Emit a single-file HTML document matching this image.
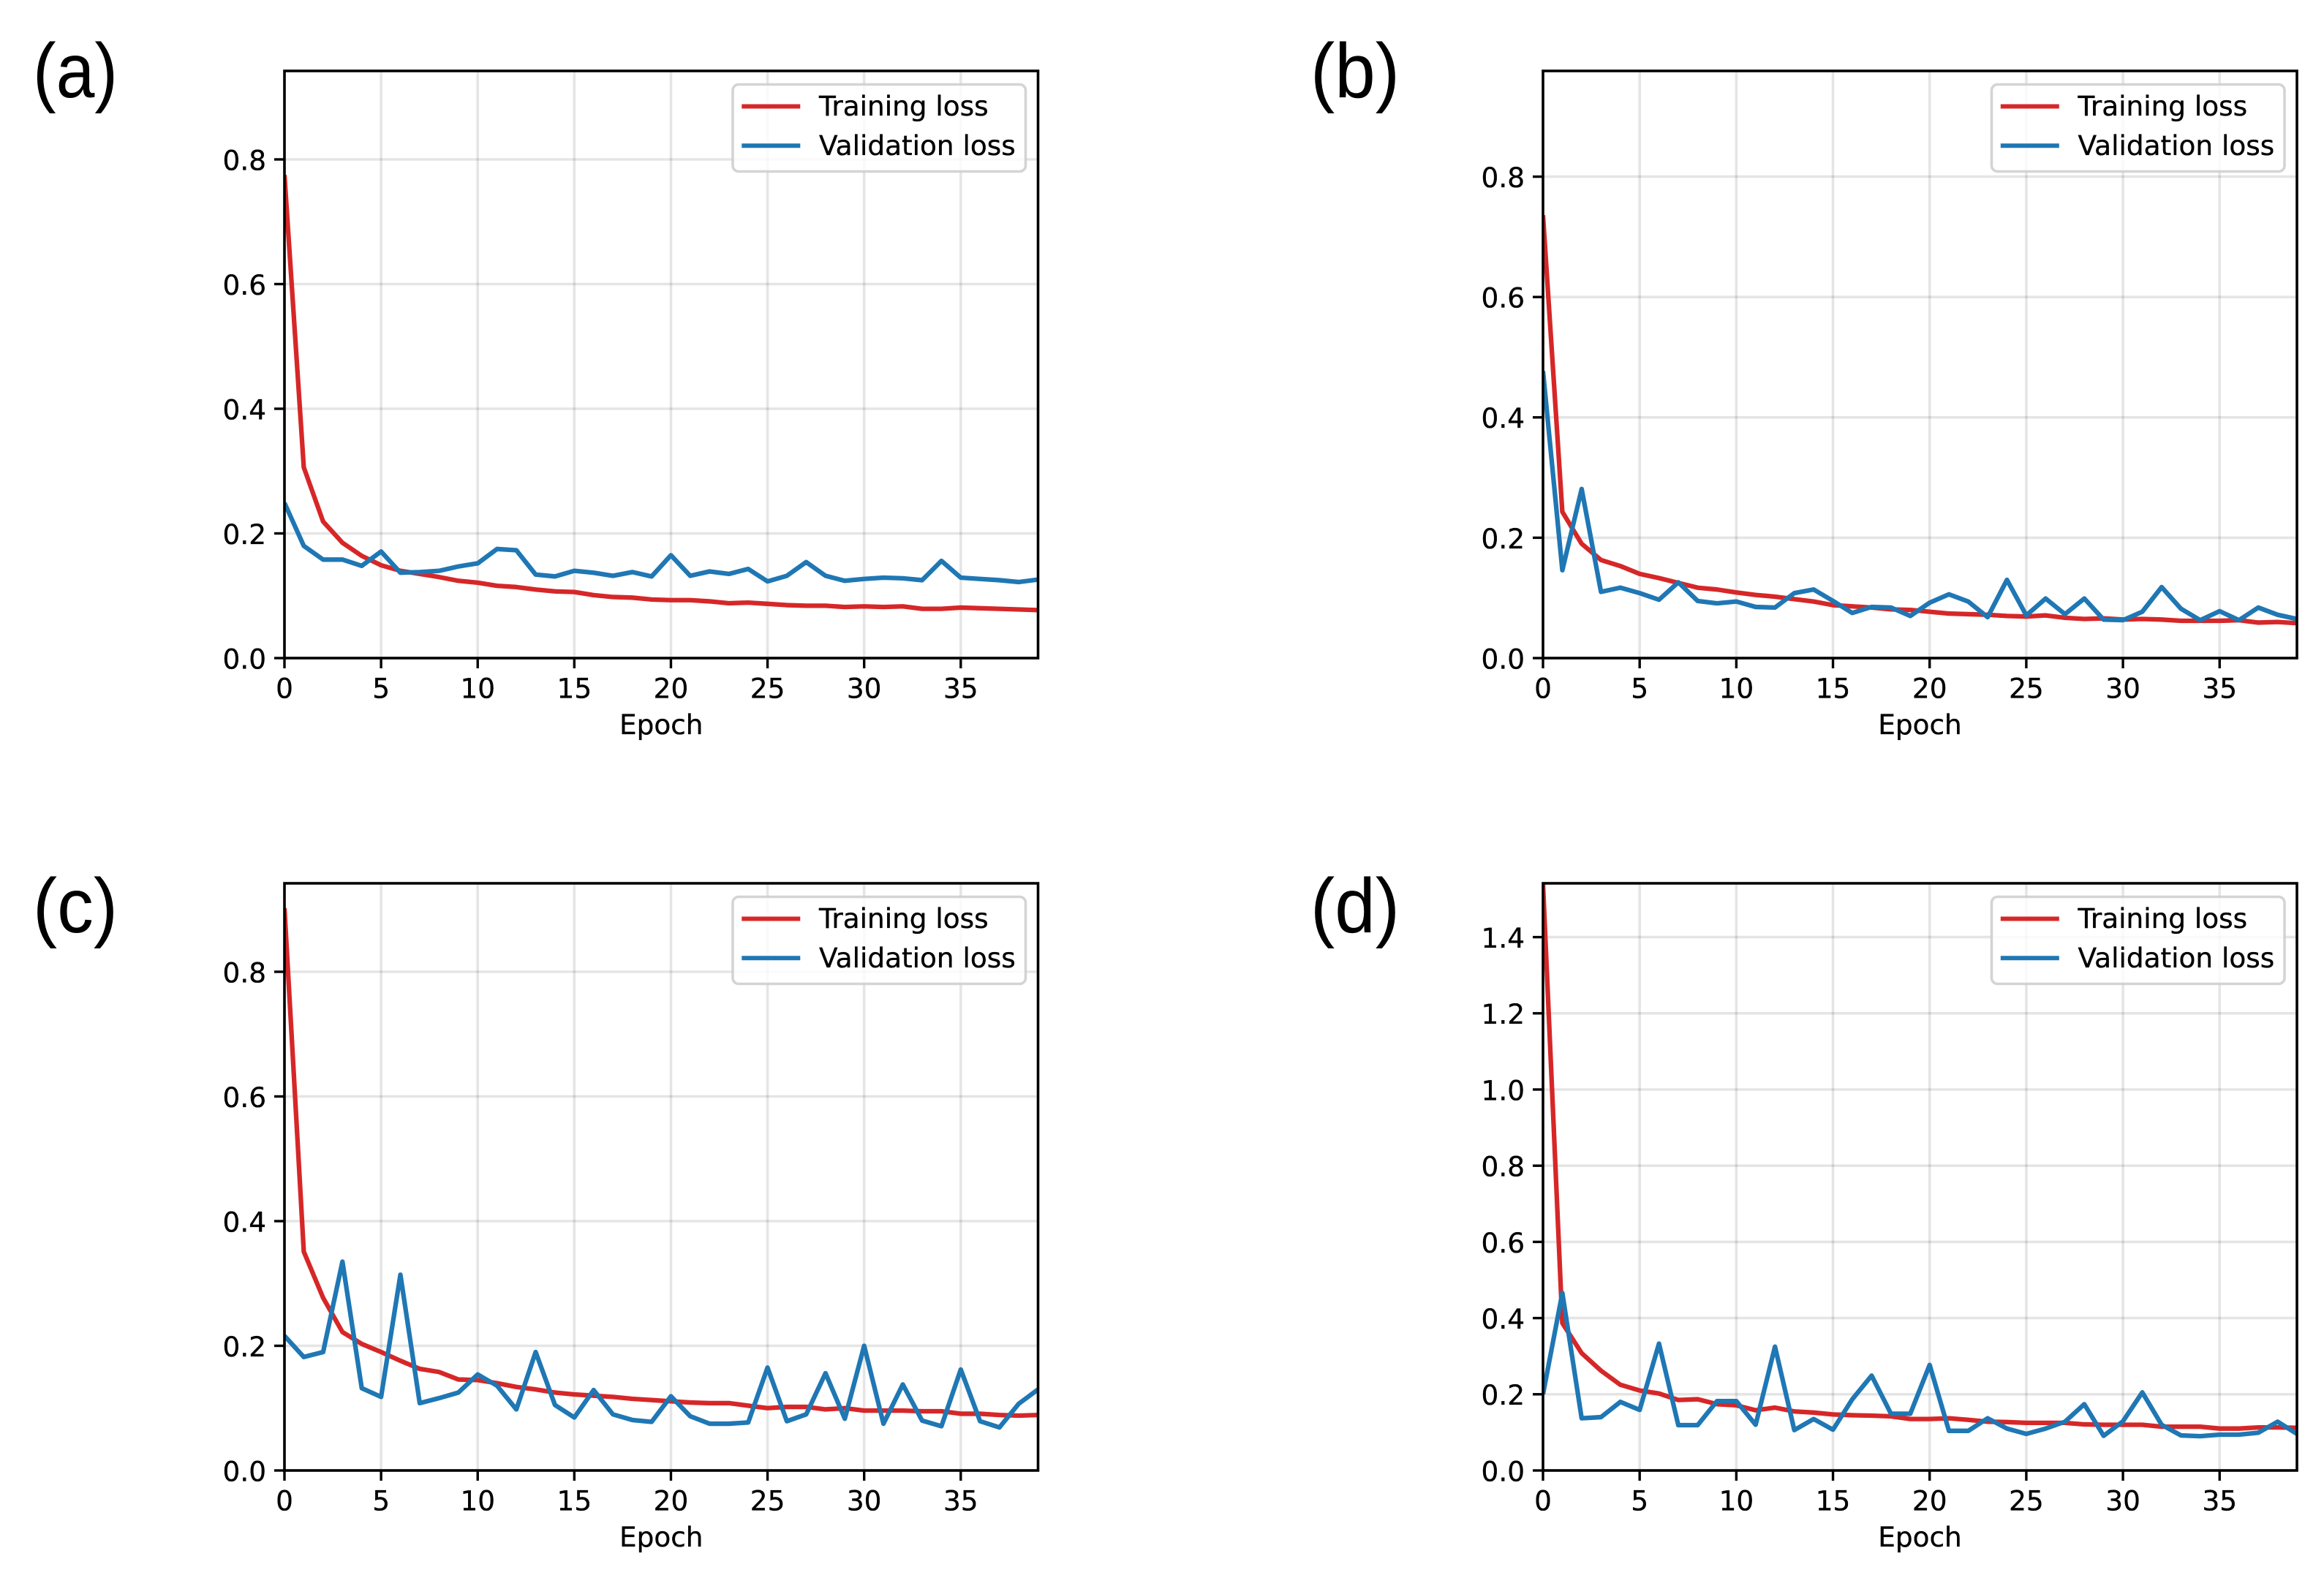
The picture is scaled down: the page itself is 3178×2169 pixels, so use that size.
<!DOCTYPE html>
<html lang="en">
<head>
<meta charset="utf-8">
<title>Training and validation loss panels</title>
<style>
  html, body { margin: 0; padding: 0; background: #fff; }
  body { width: 3178px; height: 2169px; overflow: hidden; }
  svg { display: block; }
  text { font-family: "DejaVu Sans", "Liberation Sans", sans-serif; fill: #000; stroke: #000; stroke-width: 0.35px; }
  .panel-letter { font-family: "Liberation Sans", Arial, sans-serif; stroke: none; }
</style>
</head>
<body>
<svg id="figure" xmlns="http://www.w3.org/2000/svg" width="3178" height="2169" viewBox="0 0 3178 2169"></svg>
<script>
const epochs = [0,1,2,3,4,5,6,7,8,9,10,11,12,13,14,15,16,17,18,19,20,21,22,23,24,25,26,27,28,29,30,31,32,33,34,35,36,37,38,39];
const xTickLabels = [0,5,10,15,20,25,30,35];
const yTicksShort = [0.0,0.2,0.4,0.6,0.8];
const yTicksLong = [0.0,0.2,0.4,0.6,0.8,1.0,1.2,1.4];
const seriesNames = ["Training loss","Validation loss"];

const trainingA = [.775,.306,.219,.185,.164,.149,.14,.135,.13,.124,.121,.116,.114,.11,.107,.106,.101,.098,.097,.094,.093,.093,.091,.088,.089,.087,.085,.084,.084,.082,.083,.082,.083,.079,.079,.081,.08,.079,.078,.077];
const validationA = [.249,.18,.158,.158,.148,.171,.137,.138,.14,.147,.152,.175,.173,.134,.131,.14,.137,.132,.138,.131,.165,.132,.139,.135,.143,.123,.132,.154,.132,.124,.127,.129,.128,.125,.156,.129,.127,.125,.122,.126];

const trainingB = [.736,.243,.19,.163,.153,.14,.133,.125,.117,.114,.109,.105,.102,.098,.094,.088,.086,.084,.081,.08,.077,.074,.073,.072,.07,.069,.071,.067,.065,.066,.064,.065,.064,.062,.062,.062,.063,.059,.06,.058];
const validationB = [.477,.146,.281,.11,.117,.108,.097,.126,.095,.091,.094,.085,.084,.108,.114,.095,.075,.085,.084,.07,.092,.106,.094,.068,.13,.071,.099,.073,.099,.064,.063,.077,.118,.082,.063,.078,.063,.084,.072,.065];

const trainingC = [.902,.351,.277,.222,.203,.19,.176,.163,.158,.146,.145,.14,.134,.13,.125,.122,.12,.118,.115,.113,.111,.109,.108,.108,.104,.1,.102,.102,.098,.1,.096,.096,.096,.095,.095,.091,.091,.089,.088,.089];
const validationC = [.216,.182,.19,.335,.132,.118,.314,.108,.116,.125,.154,.136,.098,.19,.105,.085,.129,.09,.081,.078,.119,.087,.075,.075,.077,.165,.079,.09,.156,.083,.2,.075,.138,.08,.071,.162,.079,.069,.107,.13];

const trainingD = [1.54,.387,.308,.262,.225,.21,.202,.185,.187,.174,.171,.158,.165,.155,.152,.147,.145,.144,.142,.135,.135,.137,.133,.128,.127,.125,.125,.125,.121,.12,.12,.12,.115,.115,.115,.11,.11,.113,.113,.112];
const validationD = [.2,.466,.137,.14,.18,.159,.333,.119,.119,.182,.182,.12,.325,.106,.135,.107,.187,.249,.149,.149,.277,.104,.104,.137,.11,.096,.11,.128,.174,.091,.129,.205,.12,.092,.09,.094,.094,.099,.128,.096];

const svgNS = "http://www.w3.org/2000/svg";
const figure = document.getElementById("figure");
const RED = "#d62728";
const BLUE = "#1f77b4";
const FONT = 37.4;

function node(tag, parent) {
  const el = document.createElementNS(svgNS, tag);
  parent.appendChild(el);
  return el;
}
function setAll(el, attrs) {
  for (const k in attrs) el.setAttribute(k, attrs[k]);
}

function drawPanel(id, letter, labelX, labelY, labelWidth, left, right, top, bottom, pxPerUnit, yTicks, training, validation) {
  const g = node("g", figure);
  
  

  const unitX = (right - left) / 39;
  const xScale = v => left + v * unitX;
  const yScale = v => bottom - v * pxPerUnit;

  const clip = node("clipPath", g);
  clip.setAttribute("id", "clip-" + id);
  const clipRect = node("rect", clip);
  setAll(clipRect, {x: left, y: top, width: right - left, height: bottom - top});

  const grid = node("g", g);
  
  
  xTickLabels.forEach(v => {
    const l = node("line", grid);
    
    
    setAll(l, {x1: xScale(v), x2: xScale(v), y1: top, y2: bottom, stroke: "#000", "stroke-opacity": 0.1, "stroke-width": 3.6});
  });
  yTicks.forEach(v => {
    const l = node("line", grid);
    
    
    setAll(l, {x1: left, x2: right, y1: yScale(v), y2: yScale(v), stroke: "#000", "stroke-opacity": 0.1, "stroke-width": 3.6});
  });

  const lines = node("g", g);
  lines.setAttribute("clip-path", "url(#clip-" + id + ")");
  const trainLine = node("polyline", lines);
  
  
  setAll(trainLine, {points: epochs.map((e, i) => xScale(e).toFixed(2) + "," + yScale(training[i]).toFixed(2)).join(" "), fill: "none", stroke: RED, "stroke-width": 6.3, "stroke-linejoin": "round"});
  const valLine = node("polyline", lines);
  
  
  setAll(valLine, {points: epochs.map((e, i) => xScale(e).toFixed(2) + "," + yScale(validation[i]).toFixed(2)).join(" "), fill: "none", stroke: BLUE, "stroke-width": 6.3, "stroke-linejoin": "round"});

  xTickLabels.forEach(v => {
    const t = node("line", g);
    
    
    setAll(t, {x1: xScale(v), x2: xScale(v), y1: bottom, y2: bottom + 14, stroke: "#000", "stroke-width": 3.4});
    const s = node("text", g);
    
    
    setAll(s, {x: xScale(v), y: bottom + 54.5, "font-size": FONT, "text-anchor": "middle"});
    s.textContent = String(v);
  });
  yTicks.forEach(v => {
    const t = node("line", g);
    
    
    setAll(t, {x1: left - 14, x2: left, y1: yScale(v), y2: yScale(v), stroke: "#000", "stroke-width": 3.4});
    const s = node("text", g);
    
    
    setAll(s, {x: left - 25, y: yScale(v) + 14.4, "font-size": FONT, "text-anchor": "end"});
    s.textContent = v.toFixed(1);
  });

  const frame = node("rect", g);
  
  
  setAll(frame, {x: left, y: top, width: right - left, height: bottom - top, fill: "none", stroke: "#000", "stroke-width": 3.6});

  const axisTitle = node("text", g);
  
  
  setAll(axisTitle, {x: (left + right) / 2, y: bottom + 104, "font-size": FONT, "text-anchor": "middle"});
  axisTitle.textContent = "Epoch";

  const legend = node("g", g);
  
  
  const lx = right - 417.5;
  const ly = top + 18.5;
  const box = node("rect", legend);
  
  
  setAll(box, {x: lx, y: ly, width: 400.5, height: 119, rx: 8, ry: 8, fill: "#fff", "fill-opacity": 0.8, stroke: "#ccc", "stroke-opacity": 0.85, "stroke-width": 3.6});
  [RED, BLUE].forEach((color, i) => {
    const rowY = ly + 30 + i * 53.8;
    const k = node("line", legend);
    
    
    setAll(k, {x1: lx + 12.3, x2: lx + 92.3, y1: rowY, y2: rowY, stroke: color, "stroke-width": 6});
    const s = node("text", legend);
    
    
    setAll(s, {x: lx + 118, y: rowY + 12.5, "font-size": FONT});
    s.textContent = seriesNames[i];
  });

  const tag = node("text", g);
  
  
  tag.setAttribute("class", "panel-letter");
  setAll(tag, {x: labelX, y: labelY, "font-size": 106, textLength: labelWidth, lengthAdjust: "spacingAndGlyphs"});
  tag.textContent = letter;
}

drawPanel("a", "(a)", 45, 133, 116, 389, 1419.5, 97, 900, 852.5, yTicksShort, trainingA, validationA);
drawPanel("b", "(b)", 1792, 133, 122, 2110, 3141, 97, 900, 823, yTicksShort, trainingB, validationB);
drawPanel("c", "(c)", 45, 1275, 116, 389, 1419.5, 1208, 2011, 852.5, yTicksShort, trainingC, validationC);
drawPanel("d", "(d)", 1792, 1275, 122, 2110, 3141, 1208, 2011, 521, yTicksLong, trainingD, validationD);
</script>
</body>
</html>
